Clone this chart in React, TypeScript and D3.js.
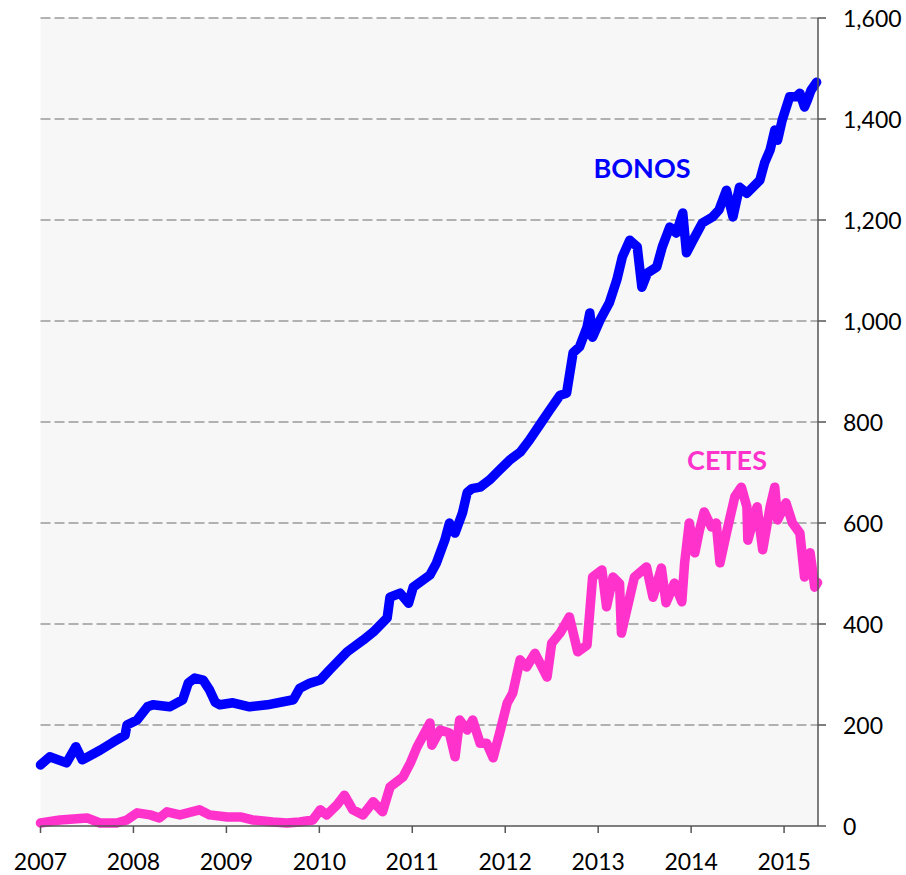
import React from "react";
import * as d3 from "d3";

// Decimal-year dates and values (miles de millones de pesos)
const bonosDates = [
  2007.0, 2007.1, 2007.28, 2007.38, 2007.45, 2007.64, 2007.78, 2007.91, 2007.93, 2008.04,
  2008.15, 2008.21, 2008.39, 2008.53, 2008.59, 2008.66, 2008.75, 2008.82, 2008.88, 2008.93,
  2009.07, 2009.25, 2009.44, 2009.61, 2009.72, 2009.79, 2009.9, 2010.01, 2010.11, 2010.3,
  2010.47, 2010.58, 2010.73, 2010.76, 2010.87, 2010.96, 2011.01, 2011.19, 2011.26, 2011.35,
  2011.4, 2011.46, 2011.54, 2011.59, 2011.64, 2011.73, 2011.83, 2011.94, 2012.05, 2012.16,
  2012.26, 2012.37, 2012.48, 2012.59, 2012.66, 2012.73, 2012.8, 2012.88, 2012.91, 2012.94,
  2013.02, 2013.12, 2013.2, 2013.26, 2013.34, 2013.42, 2013.47, 2013.53, 2013.63, 2013.69,
  2013.77, 2013.84, 2013.91, 2013.95, 2014.02, 2014.12, 2014.23, 2014.3, 2014.38, 2014.45,
  2014.52, 2014.6, 2014.74, 2014.79, 2014.85, 2014.9, 2014.93, 2014.98, 2015.06, 2015.13,
  2015.17, 2015.22, 2015.25, 2015.29, 2015.35,
];
const bonosValues = [
  121, 137, 125, 157, 131, 150, 166, 180, 200, 210,
  236, 240, 236, 250, 283, 293, 289, 269, 245, 240,
  244, 236, 240, 246, 250, 273, 283, 289, 309, 345,
  368, 384, 412, 453, 461, 441, 473, 497, 521, 566,
  600, 580, 620, 660, 668, 671, 685, 705, 725, 740,
  764, 794, 824, 853, 857, 937, 949, 988, 1016, 968,
  1002, 1036, 1081, 1127, 1160, 1147, 1067, 1095, 1107, 1147,
  1186, 1174, 1214, 1135, 1160, 1194, 1206, 1220, 1259, 1206,
  1265, 1253, 1279, 1313, 1339, 1378, 1358, 1398, 1444, 1444,
  1451, 1424, 1437, 1457, 1473,
];

const cetesDates = [
  2007.0, 2007.21, 2007.5, 2007.64, 2007.82, 2007.93, 2008.04, 2008.18, 2008.28, 2008.36,
  2008.5, 2008.71, 2008.82, 2009.01, 2009.15, 2009.28, 2009.5, 2009.65, 2009.79, 2009.93,
  2010.01, 2010.08, 2010.19, 2010.27, 2010.36, 2010.47, 2010.58, 2010.68, 2010.76, 2010.9,
  2010.98, 2011.05, 2011.19, 2011.21, 2011.3, 2011.4, 2011.46, 2011.51, 2011.59, 2011.65,
  2011.73, 2011.8, 2011.87, 2011.94, 2012.02, 2012.08, 2012.16, 2012.23, 2012.32, 2012.45,
  2012.5, 2012.59, 2012.69, 2012.78, 2012.88, 2012.94, 2013.04, 2013.09, 2013.16, 2013.23,
  2013.25, 2013.29, 2013.39, 2013.52, 2013.59, 2013.68, 2013.73, 2013.82, 2013.9, 2013.93,
  2013.98, 2014.04, 2014.09, 2014.14, 2014.22, 2014.27, 2014.31, 2014.38, 2014.47, 2014.54,
  2014.6, 2014.61, 2014.71, 2014.77, 2014.85, 2014.9, 2014.93, 2015.02, 2015.09, 2015.17,
  2015.22, 2015.28, 2015.33, 2015.36,
];
const cetesValues = [
  6, 12, 16, 6, 6, 12, 26, 22, 16, 28,
  22, 32, 22, 18, 18, 12, 8, 6, 8, 12,
  32, 22, 42, 61, 32, 22, 48, 28, 77, 97,
  125, 156, 204, 160, 190, 184, 137, 210, 190, 210,
  164, 164, 135, 184, 243, 263, 329, 315, 342, 295,
  362, 382, 414, 345, 358, 493, 507, 434, 493, 480,
  382, 414, 493, 513, 453, 511, 442, 481, 444, 521,
  600, 541, 586, 622, 592, 600, 521, 580, 652, 671,
  632, 566, 632, 547, 632, 671, 606, 640, 600, 580,
  493, 541, 473, 482,
];

const yTicks = [0, 200, 400, 600, 800, 1000, 1200, 1400, 1600];
const xTickYears = [2007, 2008, 2009, 2010, 2011, 2012, 2013, 2014, 2015];
const seriesNames = ["BONOS", "CETES"];

const W = 906;
const H = 875;
const FONT = "Lato, 'Open Sans', sans-serif";

export default function App() {
  const left = 40.5;
  const right = 818;
  const top = 18;
  const bottom = 826;

  const x = d3.scaleLinear().domain([2007, 2015.365]).range([left, right]);
  const y = d3.scaleLinear().domain([0, 1600]).range([bottom, top]);

  const line = d3
    .line<[number, number]>()
    .x((d) => x(d[0]))
    .y((d) => y(d[1]))
    .curve(d3.curveLinear);

  const bonos = bonosDates.map((d, i) => [d, bonosValues[i]] as [number, number]);
  const cetes = cetesDates.map((d, i) => [d, cetesValues[i]] as [number, number]);

  return (
    <svg
      width={W}
      height={H}
      style={{ position: "absolute", left: 0, top: 0, background: "#fff" }}
      fontFamily={FONT}
    >
      <rect x={left} y={top} width={right - left} height={bottom - top} fill="#F7F7F7" />
      {yTicks
        .filter((t) => t > 0)
        .map((t) => (
          <line
            key={"g" + t}
            x1={left}
            x2={right}
            y1={y(t)}
            y2={y(t)}
            stroke="#9a9a9a"
            strokeWidth={1.6}
            strokeDasharray="10 4"
          />
        ))}
      <path
        d={line(cetes) || ""}
        fill="none"
        stroke="#FF33CC"
        strokeWidth={9.5}
        strokeLinejoin="round"
        strokeLinecap="round"
      />
      <path
        d={line(bonos) || ""}
        fill="none"
        stroke="#0000FF"
        strokeWidth={9.5}
        strokeLinejoin="round"
        strokeLinecap="round"
      />
      {/* axes */}
      <line x1={right} x2={right} y1={top} y2={bottom} stroke="#555" strokeWidth={1.5} />
      <line x1={left} x2={right} y1={bottom} y2={bottom} stroke="#555" strokeWidth={1.5} />
      {yTicks.map((t) => (
        <g key={"y" + t}>
          <line x1={right} x2={right + 8} y1={y(t)} y2={y(t)} stroke="#555" strokeWidth={1.5} />
          <text x={843} y={y(t) + 8.5} fontSize={23} fill="#000">
            {d3.format(",")(t)}
          </text>
        </g>
      ))}
      {xTickYears.map((t) => (
        <g key={"x" + t}>
          <line x1={x(t)} x2={x(t)} y1={bottom} y2={bottom + 7} stroke="#555" strokeWidth={1.5} />
          <text x={x(t)} y={870} fontSize={23} textAnchor="middle" fill="#000">
            {t}
          </text>
        </g>
      ))}
      <text x={642} y={178} fontSize={27} fontWeight="bold" fill="#0000FF" textAnchor="middle">
        {seriesNames[0]}
      </text>
      <text x={727} y={470} fontSize={27} fontWeight="bold" fill="#FF33CC" textAnchor="middle">
        {seriesNames[1]}
      </text>
    </svg>
  );
}
